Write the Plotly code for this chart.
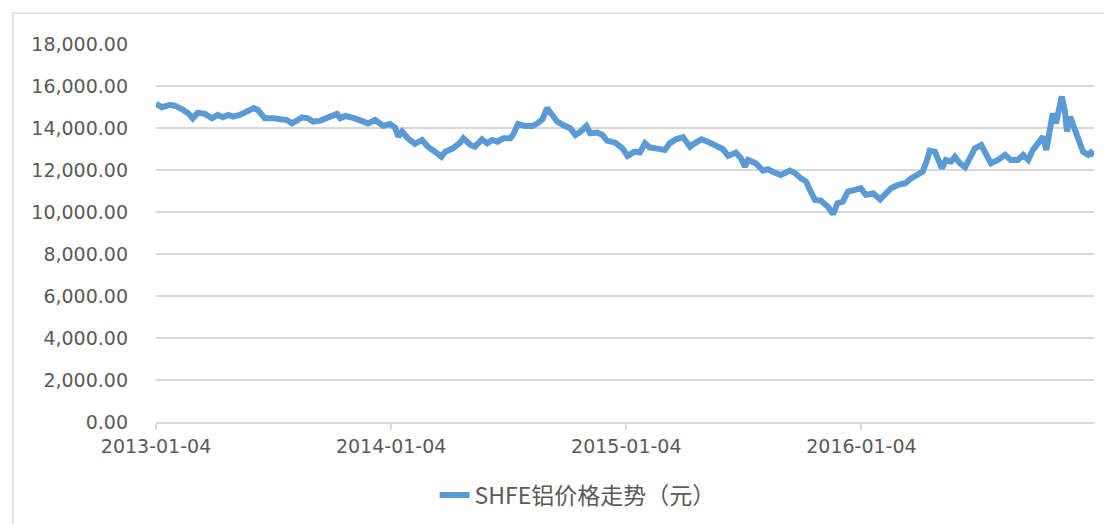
import plotly.graph_objects as go

dates = [
    "2013-01-04", "2013-01-13", "2013-01-26", "2013-02-03", "2013-02-15", "2013-02-23",
    "2013-03-02", "2013-03-10", "2013-03-21", "2013-04-01", "2013-04-10", "2013-04-18",
    "2013-04-26", "2013-05-04", "2013-05-14", "2013-05-25", "2013-06-05", "2013-06-11",
    "2013-06-22", "2013-07-05", "2013-07-19", "2013-07-26", "2013-08-03", "2013-08-11",
    "2013-08-19", "2013-08-28", "2013-09-05", "2013-09-16", "2013-09-28", "2013-10-12",
    "2013-10-17", "2013-10-25", "2013-11-09", "2013-11-22", "2013-11-29", "2013-12-10",
    "2013-12-23", "2014-01-02", "2014-01-10", "2014-01-15", "2014-01-21", "2014-01-30",
    "2014-02-10", "2014-02-21", "2014-03-02", "2014-03-13", "2014-03-23", "2014-03-29",
    "2014-04-10", "2014-04-21", "2014-04-26", "2014-05-07", "2014-05-14", "2014-05-25",
    "2014-06-02", "2014-06-10", "2014-06-18", "2014-06-27", "2014-07-08", "2014-07-12",
    "2014-07-20", "2014-07-31", "2014-08-11", "2014-08-19", "2014-08-27", "2014-09-03",
    "2014-09-08", "2014-09-19", "2014-09-28", "2014-10-09", "2014-10-17", "2014-10-25",
    "2014-11-03", "2014-11-09", "2014-11-20", "2014-11-28", "2014-12-05", "2014-12-15",
    "2014-12-18", "2014-12-29", "2015-01-06", "2015-01-17", "2015-01-25", "2015-02-02",
    "2015-02-09", "2015-02-19", "2015-03-05", "2015-03-12", "2015-03-22", "2015-04-02",
    "2015-04-13", "2015-04-20", "2015-05-01", "2015-05-14", "2015-05-26", "2015-06-03",
    "2015-06-11", "2015-06-23", "2015-07-01", "2015-07-07", "2015-07-12", "2015-07-24",
    "2015-08-04", "2015-08-12", "2015-08-19", "2015-09-01", "2015-09-15", "2015-09-23",
    "2015-10-02", "2015-10-10", "2015-10-16", "2015-10-24", "2015-11-02", "2015-11-08",
    "2015-11-13", "2015-11-21", "2015-11-28", "2015-12-06", "2015-12-14", "2015-12-25",
    "2016-01-03", "2016-01-11", "2016-01-22", "2016-02-02", "2016-02-09", "2016-02-19",
    "2016-03-01", "2016-03-12", "2016-03-21", "2016-04-01", "2016-04-08", "2016-04-15",
    "2016-04-19", "2016-04-27", "2016-05-02", "2016-05-08", "2016-05-14", "2016-05-22",
    "2016-05-28", "2016-06-05", "2016-06-13", "2016-06-20", "2016-06-28", "2016-07-08",
    "2016-07-15", "2016-07-23", "2016-08-03", "2016-08-14", "2016-08-23", "2016-09-03",
    "2016-09-11", "2016-09-19", "2016-09-26", "2016-10-07", "2016-10-12", "2016-10-17",
    "2016-10-23", "2016-10-27", "2016-11-01", "2016-11-07", "2016-11-10", "2016-11-15",
    "2016-11-18", "2016-11-23", "2016-11-27", "2016-12-04", "2016-12-08", "2016-12-13",
    "2016-12-21", "2016-12-25", "2016-12-30",
]

prices = [
    15150, 14990, 15100, 15050, 14860, 14700,
    14460, 14730, 14670, 14460, 14620, 14510,
    14620, 14540, 14620, 14780, 14950, 14860,
    14460, 14460, 14420, 14380, 14220, 14350,
    14510, 14460, 14300, 14350, 14510, 14670,
    14460, 14570, 14460, 14350, 14220, 14380,
    14100, 14190, 14030, 13590, 13830, 13510,
    13240, 13430, 13110, 12870, 12630, 12870,
    13030, 13300, 13510, 13190, 13110, 13460,
    13270, 13430, 13350, 13510, 13510, 13670,
    14190, 14100, 14100, 14220, 14420, 14950,
    14780, 14300, 14140, 13990, 13670, 13830,
    14100, 13750, 13780, 13670, 13400, 13300,
    13300, 13030, 12670, 12870, 12830, 13270,
    13080, 13030, 12950, 13270, 13460, 13560,
    13110, 13270, 13460, 13300, 13150, 12990,
    12670, 12830, 12560, 12160, 12480, 12320,
    11970, 12040, 11920, 11760, 11970, 11850,
    11600, 11450, 11050, 10570, 10540, 10420,
    10250, 9900, 10420, 10490, 10970, 11050,
    11130, 10810, 10890, 10600, 10810, 11130,
    11290, 11370, 11600, 11850, 11920, 12480,
    12920, 12870, 12480, 12080, 12480, 12400,
    12630, 12320, 12130, 12630, 13030, 13190,
    12720, 12320, 12480, 12720, 12480, 12480,
    12720, 12480, 12950, 13350, 13590, 12950,
    14060, 14700, 14220, 15020, 15500, 14780,
    13830, 14540, 14220, 13670, 13270, 12870,
    12720, 12830, 12700,
]

x_tick_dates = ["2013-01-04", "2014-01-04", "2015-01-04", "2016-01-04"]
series_name = "SHFE铝价格走势（元）"

grey_text = "#595959"
grid = "#d9d9d9"

fig = go.Figure()
fig.add_trace(go.Scatter(
    x=dates, y=prices, mode="lines", name=series_name,
    line=dict(color="#5B9BD5", width=6),
))

fig.update_layout(
    width=1112, height=524,
    margin=dict(l=148, r=26, t=36, b=110),
    paper_bgcolor="white", plot_bgcolor="white",
    font=dict(family="DejaVu Sans", size=18, color=grey_text),
    showlegend=True,
    legend=dict(
        orientation="h", x=0.297, xanchor="left", y=-0.193, yanchor="middle",
        font=dict(family="Noto Sans CJK SC", size=23, color=grey_text),
        bgcolor="rgba(0,0,0,0)",
    ),
    shapes=[dict(
        type="rect", xref="paper", yref="paper",
        x0=-0.1525, x1=1.05, y0=-0.4, y1=1.082,
        line=dict(color="#d9d9d9", width=1.5), fillcolor="rgba(0,0,0,0)", layer="below",
    )],
)

fig.update_xaxes(
    type="date", range=["2013-01-04", "2016-12-30"],
    tickvals=x_tick_dates, ticktext=x_tick_dates,
    showgrid=False, showline=True, linecolor=grid, linewidth=1.5,
    ticks="outside", tickcolor=grid, ticklen=6, tickwidth=1.5,
    tickfont=dict(family="DejaVu Sans", size=19, color=grey_text),
    zeroline=False,
)
fig.update_yaxes(
    range=[0, 18000], dtick=2000, tickformat=",.2f",
    showgrid=True, gridcolor=grid, gridwidth=1.5,
    zeroline=False, showline=False, ticks="",
    ticklabelstandoff=27,
    tickfont=dict(family="DejaVu Sans", size=19, color=grey_text),
)

fig.write_html("out.html")
